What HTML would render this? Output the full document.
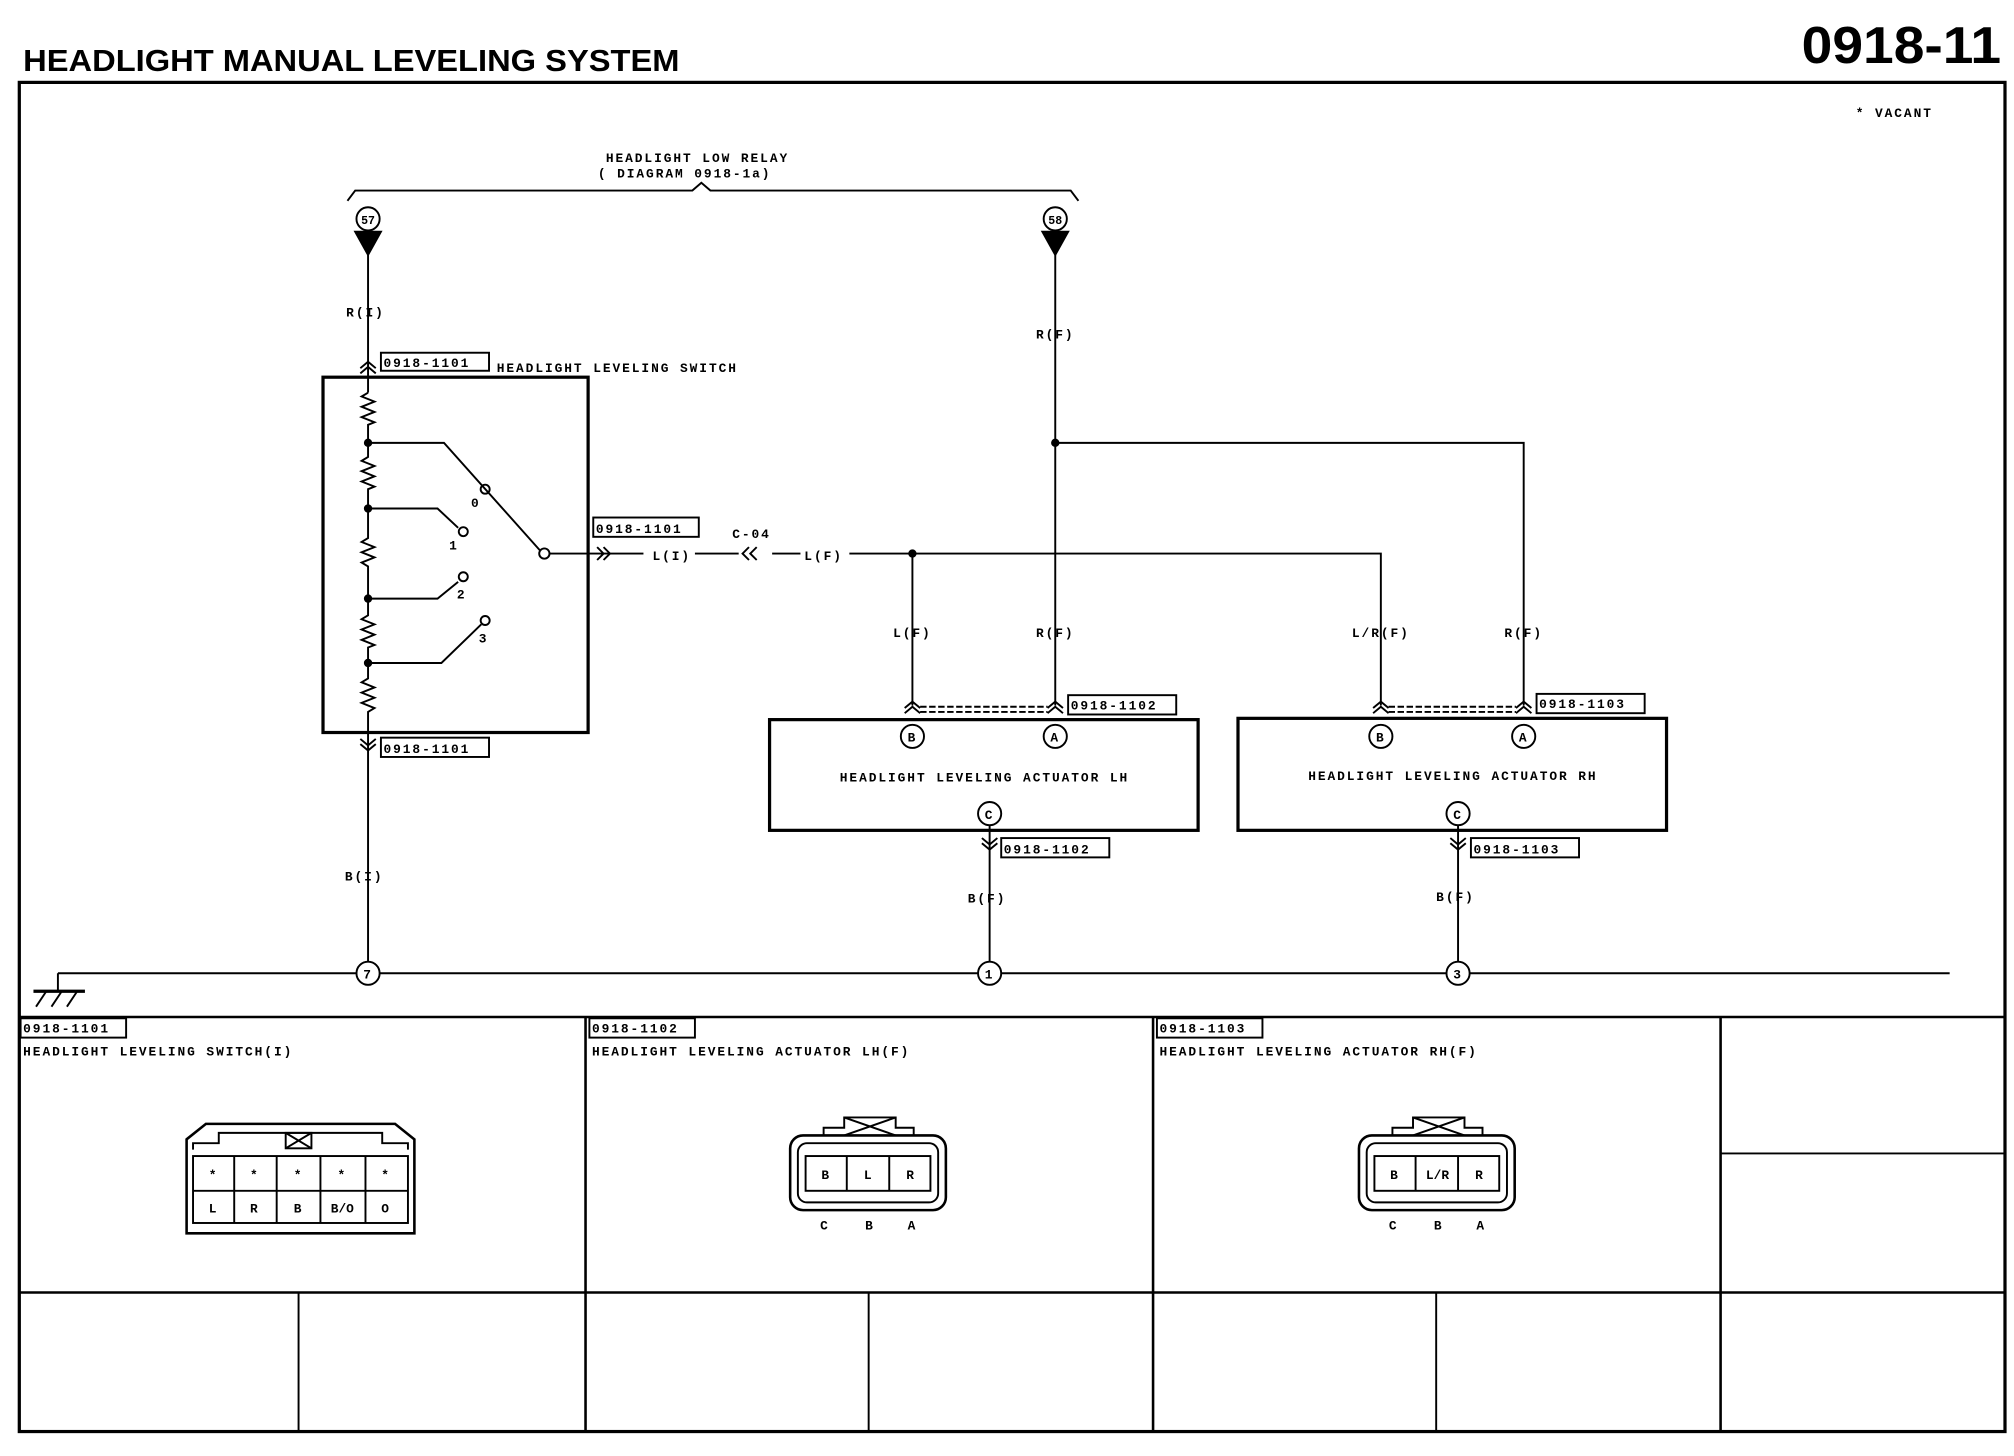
<!DOCTYPE html>
<html><head><meta charset="utf-8"><style>
html,body{margin:0;padding:0;background:#fff;}
svg{display:block}
text{font-family:"Liberation Mono",monospace;font-weight:bold;fill:#000}
.s{font-size:10px;letter-spacing:1.5px}
</style></head><body>
<svg width="2014" height="1456" viewBox="0 0 1565 1131" preserveAspectRatio="none" xmlns="http://www.w3.org/2000/svg">
<g fill="none" stroke="#000" stroke-width="1.5">
<rect x="15" y="64" width="1543" height="1048" stroke-width="2.5"/>
<line x1="15" y1="790" x2="1558" y2="790" stroke-width="2"/>
<line x1="15" y1="1004" x2="1558" y2="1004" stroke-width="2"/>
<line x1="455" y1="790" x2="455" y2="1112" stroke-width="2"/>
<line x1="896" y1="790" x2="896" y2="1112" stroke-width="2"/>
<line x1="1337" y1="790" x2="1337" y2="1112" stroke-width="2"/>
<line x1="232" y1="1004" x2="232" y2="1112"/>
<line x1="675" y1="1004" x2="675" y2="1112"/>
<line x1="1116" y1="1004" x2="1116" y2="1112"/>
<line x1="1337" y1="896" x2="1558" y2="896"/>
<line x1="45" y1="756" x2="1515" y2="756"/>
<line x1="45" y1="756" x2="45" y2="770"/>
<line x1="26" y1="770" x2="66" y2="770" stroke-width="2.5"/>
<line x1="36" y1="770" x2="28" y2="782"/><line x1="48" y1="770" x2="40" y2="782"/><line x1="60" y1="770" x2="52" y2="782"/>
<path d="M270 156 L276 148 L538 148 L545 142 L552 148 L832 148 L838 156"/>
<circle cx="286" cy="170" r="9"/><circle cx="820" cy="170" r="9"/>
<path d="M276 180 L296 180 L286 198Z M810 180 L830 180 L820 198Z" fill="#000"/>
<line x1="286" y1="198" x2="286" y2="305"/>
<rect x="251" y="293" width="206" height="276" stroke-width="2.5"/>
<polyline points="286,305 281,308 291,312 281,316 291,320 281,324 291,328 286,330 286,355 281,358 291,362 281,366 291,370 281,374 291,378 286,380 286,418 281,421 291,425 281,429 291,433 281,437 286,440 286,478 281,481 291,485 281,489 291,493 281,497 291,501 286,503 286,527 281,530 291,534 281,538 291,542 281,546 291,550 286,553 286,569"/>
<path d="M286 344 H345 L420 428"/>
<path d="M286 395 H340 L356 410"/>
<path d="M286 465 H340 L356 452"/>
<path d="M286 515 H343 L374 485"/>
<circle cx="286" cy="344" r="2.5" fill="#000"/><circle cx="286" cy="395" r="2.5" fill="#000"/><circle cx="286" cy="465" r="2.5" fill="#000"/><circle cx="286" cy="515" r="2.5" fill="#000"/>
<circle cx="377" cy="380" r="3.5"/><circle cx="360" cy="413" r="3.5"/><circle cx="360" cy="448" r="3.5"/><circle cx="377" cy="482" r="3.5"/>
<circle cx="423" cy="430" r="4"/>
<path d="M427 430 H500 M540 430 H574 M600 430 H622 M660 430 H1073 V548"/>
<path d="M464 425 l5 5 -5 5 M469 425 l5 5 -5 5"/>
<path d="M582 425 l-5 5 5 5 M588 425 l-5 5 5 5"/>
<line x1="709" y1="430" x2="709" y2="548"/>
<circle cx="709" cy="430" r="2.5" fill="#000"/><circle cx="820" cy="344" r="2.5" fill="#000"/>
<line x1="820" y1="198" x2="820" y2="548"/>
<path d="M820 344 H1184 V548"/>
<path d="M280 286 l6 -5 6 5 M280 290 l6 -5 6 5"/>
<path d="M280 574 l6 5 6 -5 M280 578 l6 5 6 -5"/>
<line x1="286" y1="569" x2="286" y2="748"/>
<rect x="598" y="559" width="333" height="86" stroke-width="2.5"/>
<rect x="962" y="558" width="333" height="87" stroke-width="2.5"/>
<circle cx="709" cy="572" r="9"/><circle cx="820" cy="572" r="9"/><circle cx="769" cy="632" r="9"/>
<circle cx="1073" cy="572" r="9"/><circle cx="1184" cy="572" r="9"/><circle cx="1133" cy="632" r="9"/>
<path d="M703 550 l6 -5 6 5 M703 554 l6 -5 6 5 M814 550 l6 -5 6 5 M814 554 l6 -5 6 5"/>
<path d="M1067 550 l6 -5 6 5 M1067 554 l6 -5 6 5 M1178 550 l6 -5 6 5 M1178 554 l6 -5 6 5"/>
<path d="M715 549 H814 M715 553 H814 M1079 549 H1178 M1079 553 H1178" stroke-dasharray="5,2"/>
<path d="M763 651 l6 5 6 -5 M763 655 l6 5 6 -5 M1127 651 l6 5 6 -5 M1127 655 l6 5 6 -5"/>
<line x1="769" y1="641" x2="769" y2="748"/>
<line x1="1133" y1="641" x2="1133" y2="748"/>
<circle cx="286" cy="756" r="9" fill="#fff"/><circle cx="769" cy="756" r="9" fill="#fff"/><circle cx="1133" cy="756" r="9" fill="#fff"/>
<rect x="296" y="274" width="84" height="14"/><rect x="461" y="402" width="82" height="15"/>
<rect x="296" y="573" width="84" height="15"/>
<rect x="830" y="540" width="84" height="15"/><rect x="1194" y="539" width="84" height="15"/>
<rect x="778" y="651" width="84" height="15"/><rect x="1143" y="651" width="84" height="15"/>
<rect x="16" y="791" width="82" height="15"/><rect x="458" y="791" width="82" height="15"/><rect x="899" y="791" width="82" height="15"/>
<path d="M145 885 L160 873 L307 873 L322 885 V958 H145 Z" stroke-width="2"/>
<path d="M150 893 V888 H170 V880 H297 V888 H317 V893"/>
<rect x="150" y="898" width="167" height="52"/>
<line x1="150" y1="925" x2="317" y2="925"/>
<line x1="182" y1="898" x2="182" y2="950"/><line x1="215" y1="898" x2="215" y2="950"/><line x1="249" y1="898" x2="249" y2="950"/><line x1="284" y1="898" x2="284" y2="950"/>
<rect x="222" y="880" width="20" height="12"/><path d="M222 880 L242 892 M242 880 L222 892"/>
<rect x="614" y="882" width="121" height="58" rx="10" stroke-width="2"/>
<rect x="620" y="888" width="109" height="46" rx="7"/>
<path d="M640 882 V876 H656 V868 H696 V876 H710 V882"/>
<path d="M656 868 L696 882 M696 868 L656 882"/>
<rect x="626" y="898" width="97" height="27"/><line x1="658" y1="898" x2="658" y2="925"/><line x1="691" y1="898" x2="691" y2="925"/>
<rect x="1056" y="882" width="121" height="58" rx="10" stroke-width="2"/>
<rect x="1062" y="888" width="109" height="46" rx="7"/>
<path d="M1082 882 V876 H1098 V868 H1138 V876 H1152 V882"/>
<path d="M1098 868 L1138 882 M1138 868 L1098 882"/>
<rect x="1068" y="898" width="97" height="27"/><line x1="1100" y1="898" x2="1100" y2="925"/><line x1="1133" y1="898" x2="1133" y2="925"/>
</g>
<text x="18" y="55" textLength="510" lengthAdjust="spacingAndGlyphs" style="font-family:'Liberation Sans',sans-serif;font-size:24px;font-weight:bold">HEADLIGHT MANUAL LEVELING SYSTEM</text>
<text x="1400" y="49" textLength="155" lengthAdjust="spacingAndGlyphs" style="font-family:'Liberation Sans',sans-serif;font-size:40px;font-weight:bold">0918-11</text>
<g class="s">
<text x="1442" y="91">* VACANT</text>
<text x="542" y="126" text-anchor="middle">HEADLIGHT LOW RELAY</text>
<text x="532" y="138" text-anchor="middle">( DIAGRAM 0918-1a)</text>
<text x="286" y="174" text-anchor="middle" style="font-size:9px;letter-spacing:0">57</text>
<text x="820" y="174" text-anchor="middle" style="font-size:9px;letter-spacing:0">58</text>
<text x="284" y="246" text-anchor="middle">R(I)</text>
<text x="820" y="263" text-anchor="middle">R(F)</text>
<text x="298" y="285">0918-1101</text>
<text x="386" y="289">HEADLIGHT LEVELING SWITCH</text>
<text x="366" y="394">0</text><text x="349" y="427">1</text><text x="355" y="465">2</text><text x="372" y="499">3</text>
<text x="463" y="414">0918-1101</text>
<text x="584" y="418" text-anchor="middle">C-04</text>
<text x="522" y="435" text-anchor="middle">L(I)</text>
<text x="640" y="435" text-anchor="middle">L(F)</text>
<text x="709" y="495" text-anchor="middle">L(F)</text><text x="820" y="495" text-anchor="middle">R(F)</text>
<text x="1073" y="495" text-anchor="middle">L/R(F)</text><text x="1184" y="495" text-anchor="middle">R(F)</text>
<text x="298" y="585">0918-1101</text>
<text x="832" y="551">0918-1102</text><text x="1196" y="550">0918-1103</text>
<text x="780" y="663">0918-1102</text><text x="1145" y="663">0918-1103</text>
<text x="709" y="576" text-anchor="middle">B</text><text x="820" y="576" text-anchor="middle">A</text><text x="769" y="636" text-anchor="middle">C</text>
<text x="1073" y="576" text-anchor="middle">B</text><text x="1184" y="576" text-anchor="middle">A</text><text x="1133" y="636" text-anchor="middle">C</text>
<text x="765" y="607" text-anchor="middle">HEADLIGHT LEVELING ACTUATOR LH</text>
<text x="1129" y="606" text-anchor="middle">HEADLIGHT LEVELING ACTUATOR RH</text>
<text x="283" y="684" text-anchor="middle">B(I)</text>
<text x="767" y="701" text-anchor="middle">B(F)</text><text x="1131" y="700" text-anchor="middle">B(F)</text>
<text x="286" y="760" text-anchor="middle">7</text><text x="769" y="760" text-anchor="middle">1</text><text x="1133" y="760" text-anchor="middle">3</text>
<text x="18" y="802">0918-1101</text><text x="460" y="802">0918-1102</text><text x="901" y="802">0918-1103</text>
<text x="18" y="820">HEADLIGHT LEVELING SWITCH(I)</text>
<text x="460" y="820">HEADLIGHT LEVELING ACTUATOR LH(F)</text>
<text x="901" y="820">HEADLIGHT LEVELING ACTUATOR RH(F)</text>
<text x="166" y="916" text-anchor="middle">*</text><text x="198" y="916" text-anchor="middle">*</text><text x="232" y="916" text-anchor="middle">*</text><text x="266" y="916" text-anchor="middle">*</text><text x="300" y="916" text-anchor="middle">*</text>
<text x="166" y="942" text-anchor="middle">L</text><text x="198" y="942" text-anchor="middle">R</text><text x="232" y="942" text-anchor="middle">B</text><text x="266" y="942" text-anchor="middle" style="letter-spacing:0">B/O</text><text x="300" y="942" text-anchor="middle">O</text>
<text x="642" y="916" text-anchor="middle">B</text><text x="675" y="916" text-anchor="middle">L</text><text x="708" y="916" text-anchor="middle">R</text>
<text x="641" y="955" text-anchor="middle">C</text><text x="676" y="955" text-anchor="middle">B</text><text x="709" y="955" text-anchor="middle">A</text>
<text x="1084" y="916" text-anchor="middle">B</text><text x="1117" y="916" text-anchor="middle" style="letter-spacing:0">L/R</text><text x="1150" y="916" text-anchor="middle">R</text>
<text x="1083" y="955" text-anchor="middle">C</text><text x="1118" y="955" text-anchor="middle">B</text><text x="1151" y="955" text-anchor="middle">A</text>
</g>
</svg>
</body></html>
